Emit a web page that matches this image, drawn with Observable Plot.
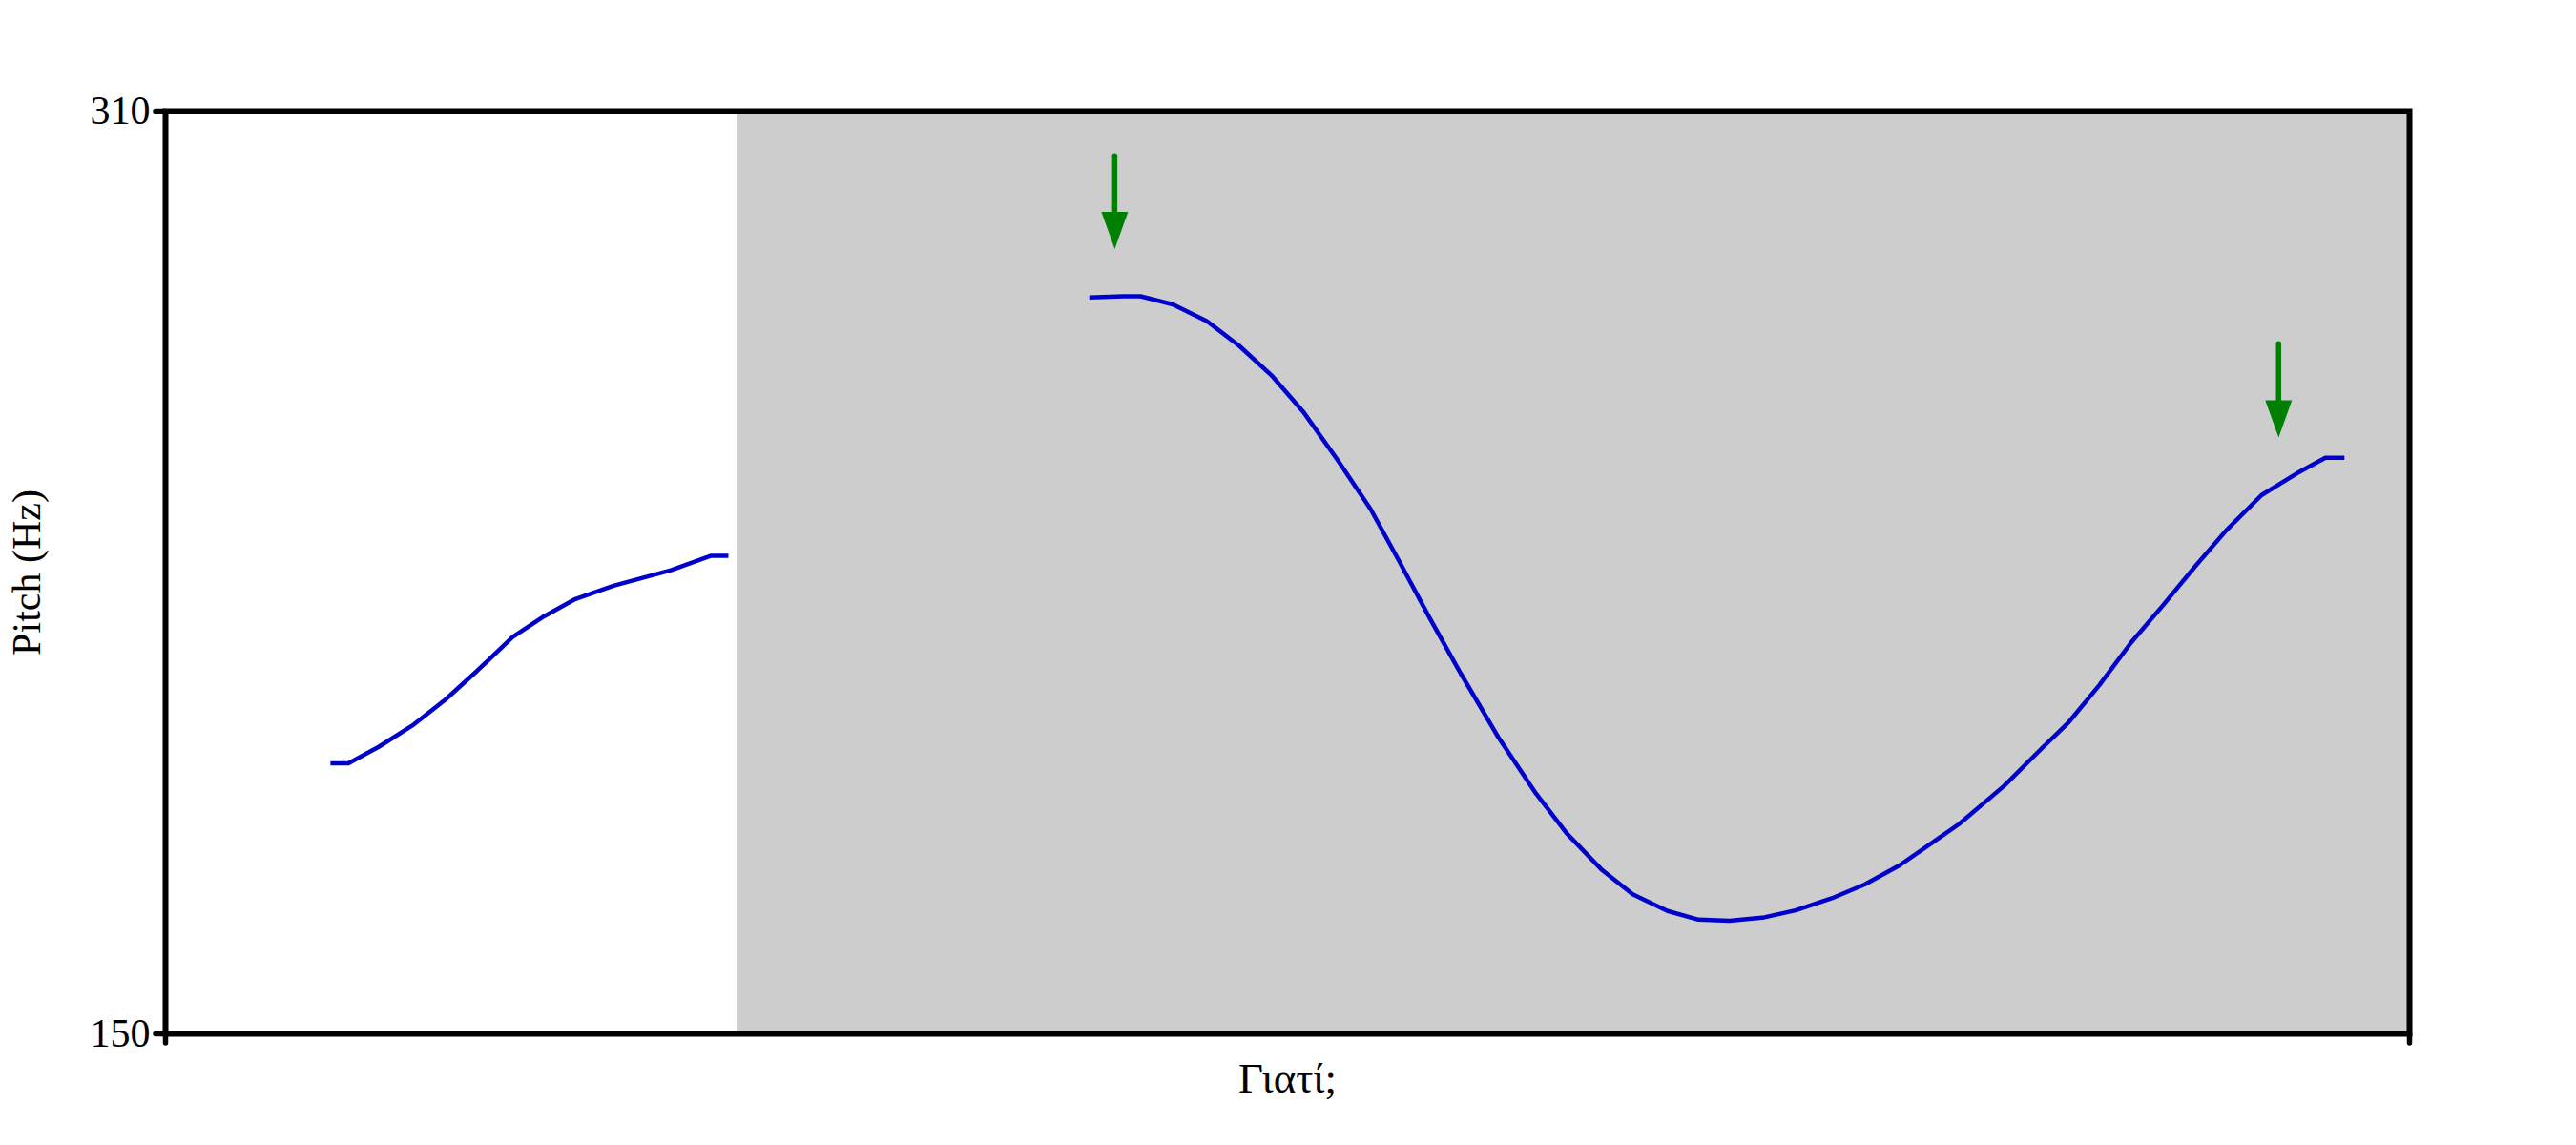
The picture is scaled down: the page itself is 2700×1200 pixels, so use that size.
<!DOCTYPE html>
<html>
<head>
<meta charset="utf-8">
<script src="https://cdn.jsdelivr.net/npm/d3@7"></script>
<script src="https://cdn.jsdelivr.net/npm/@observablehq/plot@0.6"></script>
<style>
  html, body { margin: 0; padding: 0; background: #fff; }
  #chart { width: 2700px; height: 1200px; }
</style>
</head>
<body>
<div id="chart"></div>
<script>
// ---- data (time in s, pitch in Hz) ----
const seg1Time = [0.0441, 0.0489, 0.0571, 0.0663, 0.0749, 0.0834, 0.0928, 0.1012, 0.1096, 0.1198, 0.1351, 0.1459, 0.1505];
const seg1Hz   = [196.9, 196.9, 199.8, 203.6, 208.0, 213.0, 218.8, 222.4, 225.4, 227.7, 230.4, 232.9, 232.9];

const seg2Time = [0.2470, 0.2561, 0.2607, 0.2693, 0.2784, 0.2871, 0.2957, 0.3044, 0.3135, 0.3222,
                  0.3299, 0.3381, 0.3463, 0.3563, 0.3664, 0.3746, 0.3841, 0.3923, 0.4016, 0.4099,
                  0.4182, 0.4275, 0.4358, 0.4455, 0.4543, 0.4636, 0.4714, 0.4796, 0.4916, 0.5018,
                  0.5087, 0.5171, 0.5255, 0.5342, 0.5426, 0.5510, 0.5604, 0.5699, 0.5775, 0.5826];
const seg2Hz   = [277.7, 277.9, 277.9, 276.5, 273.6, 269.3, 264.2, 257.7, 249.4, 241.0,
                  231.9, 222.0, 212.5, 201.5, 191.7, 184.8, 178.4, 174.2, 171.3, 169.8,
                  169.6, 170.2, 171.4, 173.5, 175.9, 179.2, 182.7, 186.4, 193.0, 199.6,
                  203.9, 210.5, 217.8, 224.4, 231.0, 237.3, 243.4, 247.2, 249.9, 249.9];

const timeDomain = [0, 0.6];
const pitchDomain = [150, 310];
const pitchTicks = [150, 310];
const timeTicks = [0, 0.6];

const shadeStart = [0.153];
const shadeEnd = [0.6];

const arrowTime   = [0.2538, 0.5650];
const arrowTailHz = [302.2, 269.6];
const arrowBaseHz = [292.4, 259.8];
const arrowTipHz  = [286.1, 253.4];

const wordLabel = ["Γιατί;"];
const yAxisLabel = ["Pitch (Hz)"];

// ---- tables built from arrays ----
const pitch = [
  ...seg1Time.map((t, i) => ({t, hz: seg1Hz[i], seg: 1})),
  ...seg2Time.map((t, i) => ({t, hz: seg2Hz[i], seg: 2}))
];
const shade = shadeStart.map((s, i) => ({x1: s, x2: shadeEnd[i]}));
const arrows = arrowTime.map((t, i) => ({t, tail: arrowTailHz[i], base: arrowBaseHz[i], tip: arrowTipHz[i]}));

const GREEN = "#008000";
const arrowHead = {
  draw(context) {
    context.moveTo(0, 0);
    context.lineTo(-14, -39);
    context.lineTo(14, -39);
    context.closePath();
  }
};

const FONT = "'Liberation Serif', 'Times New Roman', serif";

const chart = Plot.plot({
  width: 2700,
  height: 1200,
  marginLeft: 173,
  marginRight: 175,
  marginTop: 116,
  marginBottom: 117,
  style: {fontFamily: FONT, fontSize: "42px", background: "white", color: "black"},
  x: {domain: timeDomain},
  y: {domain: pitchDomain},
  marks: [
    Plot.rect(shade, {x1: "x1", x2: "x2", y1: pitchDomain[0], y2: pitchDomain[1], fill: "#cdcdcd"}),
    Plot.line(pitch, {x: "t", y: "hz", z: "seg", curve: "linear", stroke: "#0000cd", strokeWidth: 4.5, strokeLinejoin: "round", strokeLinecap: "butt"}),
    Plot.ruleX(arrows, {x: "t", y1: "tail", y2: "base", stroke: GREEN, strokeWidth: 5.5, strokeLinecap: "round"}),
    Plot.dot(arrows, {x: "t", y: "tip", symbol: arrowHead, r: 5, fill: GREEN, stroke: "none"}),
    Plot.frame({stroke: "black", strokeWidth: 6}),
    Plot.axisY({ticks: pitchTicks, tickSize: 10, tickPadding: 6, strokeWidth: 5.5, strokeLinecap: "round", fontSize: 42, label: null, tickFormat: d => String(d)}),
    Plot.axisX({ticks: timeTicks, tickSize: 10, strokeWidth: 5.5, strokeLinecap: "round", tickFormat: () => "", label: null}),
    Plot.text(wordLabel, {frameAnchor: "bottom", text: d => d, dy: 47, lineAnchor: "middle", textAnchor: "middle", fontSize: 45, fill: "black"}),
    Plot.text(yAxisLabel, {frameAnchor: "left", text: d => d, rotate: -90, dx: -145, lineAnchor: "middle", textAnchor: "middle", fontSize: 42, fill: "black"})
  ]
});

document.getElementById("chart").appendChild(chart);
</script>
</body>
</html>
